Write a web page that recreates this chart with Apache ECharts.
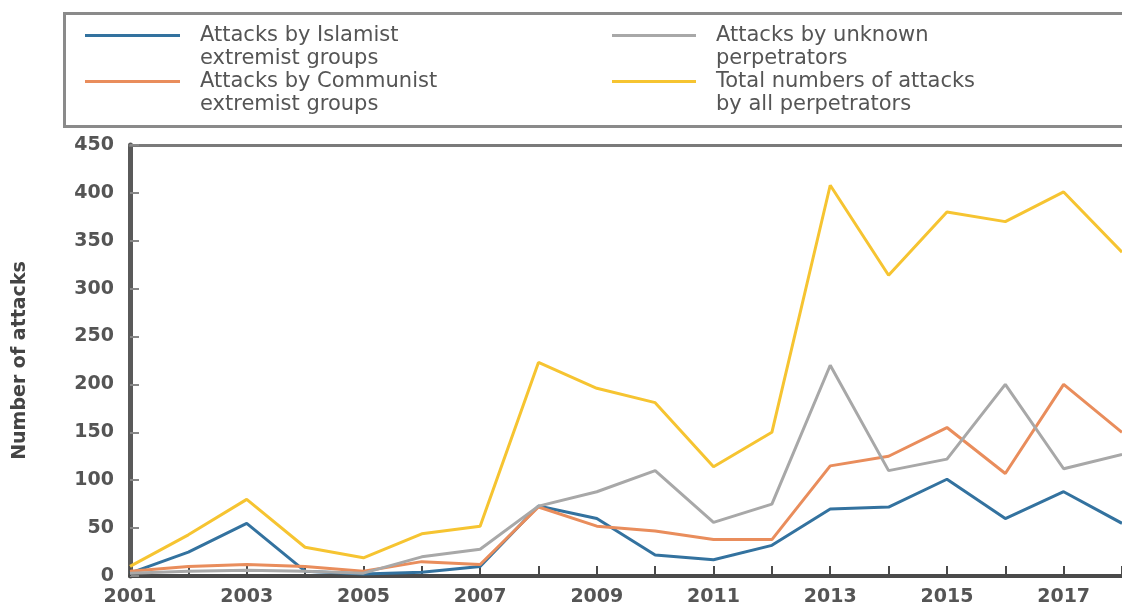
<!DOCTYPE html>
<html>
<head>
<meta charset="utf-8">
<script src="https://cdn.jsdelivr.net/npm/echarts@6/dist/echarts.min.js"></script>
<style>
  html, body {margin: 0; padding: 0; background: #ffffff;}
  #main {width: 1122px; height: 610px;}
</style>
</head>
<body>
<div id="main"></div>
<script>
  // years on the x axis
  var years = ['2001', '2002', '2003', '2004', '2005', '2006', '2007', '2008', '2009',
    '2010', '2011', '2012', '2013', '2014', '2015', '2016', '2017', '2018'];

  // values
  var islamist = [3, 25, 55, 5, 2, 4, 10, 73, 60, 22, 17, 32, 70, 72, 101, 60, 88, 55];
  var communist = [5, 10, 12, 10, 5, 15, 12, 72, 52, 47, 38, 38, 115, 125, 155, 107, 200, 150];
  var unknown = [3, 5, 6, 5, 3, 20, 28, 73, 88, 110, 56, 75, 220, 110, 122, 200, 112, 127];
  var total = [10, 43, 80, 30, 19, 44, 52, 223, 196, 181, 114, 150, 408, 314, 380, 370, 401, 338];

  var names = [
    'Attacks by Islamist\nextremist groups',
    'Attacks by Communist\nextremist groups',
    'Attacks by unknown\nperpetrators',
    'Total numbers of attacks\nby all perpetrators'
  ];
  var colors = ['#33729f', '#e98d5c', '#a8a8a8', '#f6c431'];

  var myChart = echarts.init(document.getElementById('main'));

  var legendText = {
    fontFamily: 'DejaVu Sans',
    fontSize: 21,
    color: '#555',
    lineHeight: 23,
    padding: [0, 0, 0, 15]
  };

  // blank first line so the icon sits level with the first text line
  function legendLabel(name) {
    return ' \n' + name;
  }

  function makeSeries(i, values) {
    return {
      name: names[i],
      type: 'line',
      data: values,
      showSymbol: false,
      symbol: 'none',
      lineStyle: {width: 3, color: colors[i]},
      itemStyle: {color: colors[i]}
    };
  }

  myChart.setOption({
    animation: false,
    color: colors,
    legend: [{
      orient: 'vertical',
      left: 85,
      top: 1,
      padding: 0,
      itemGap: -23,
      itemWidth: 95,
      itemHeight: 3,
      icon: 'rect',
      formatter: legendLabel,
      data: [names[0], names[1]],
      textStyle: legendText
    }, {
      orient: 'vertical',
      left: 612,
      top: 1,
      padding: 0,
      itemGap: -23,
      itemWidth: 84,
      itemHeight: 3,
      icon: 'rect',
      formatter: legendLabel,
      data: [names[2], names[3]],
      textStyle: legendText
    }],
    // frame round the legend
    graphic: [{
      type: 'rect',
      left: 62,
      top: 11,
      shape: {width: 1100, height: 113},
      style: {fill: 'none', stroke: '#8a8a8a', lineWidth: 3},
      silent: true
    }],
    grid: {
      left: 130,
      right: 0,
      top: 145,
      bottom: 34
    },
    xAxis: [{
      type: 'category',
      data: years,
      boundaryGap: false,
      axisLine: {lineStyle: {color: '#4a4a4a', width: 4}},
      axisTick: {inside: true, length: 10, interval: 0, lineStyle: {color: '#4a4a4a', width: 2}},
      axisLabel: {
        interval: 1,
        margin: 12,
        fontFamily: 'DejaVu Sans',
        fontSize: 19,
        fontWeight: 'bold',
        color: '#555'
      }
    }, {
      // top border of the plot
      type: 'category',
      data: years,
      position: 'top',
      boundaryGap: false,
      axisLine: {lineStyle: {color: '#7a7a7a', width: 3}},
      axisTick: {show: false},
      axisLabel: {show: false}
    }],
    yAxis: {
      type: 'value',
      min: 0,
      max: 450,
      interval: 50,
      name: 'Number of attacks',
      nameLocation: 'middle',
      nameGap: 100,
      nameTextStyle: {
        fontFamily: 'DejaVu Sans',
        fontSize: 19,
        fontWeight: 'bold',
        color: '#444'
      },
      axisLine: {show: true, lineStyle: {color: '#5a5a5a', width: 5}},
      axisTick: {show: true, inside: true, length: 9, lineStyle: {color: '#888', width: 2}},
      splitLine: {show: false},
      axisLabel: {
        margin: 16,
        fontFamily: 'DejaVu Sans',
        fontSize: 19,
        fontWeight: 'bold',
        color: '#555'
      }
    },
    series: [
      makeSeries(0, islamist),
      makeSeries(1, communist),
      makeSeries(2, unknown),
      makeSeries(3, total)
    ]
  });
</script>
</body>
</html>
